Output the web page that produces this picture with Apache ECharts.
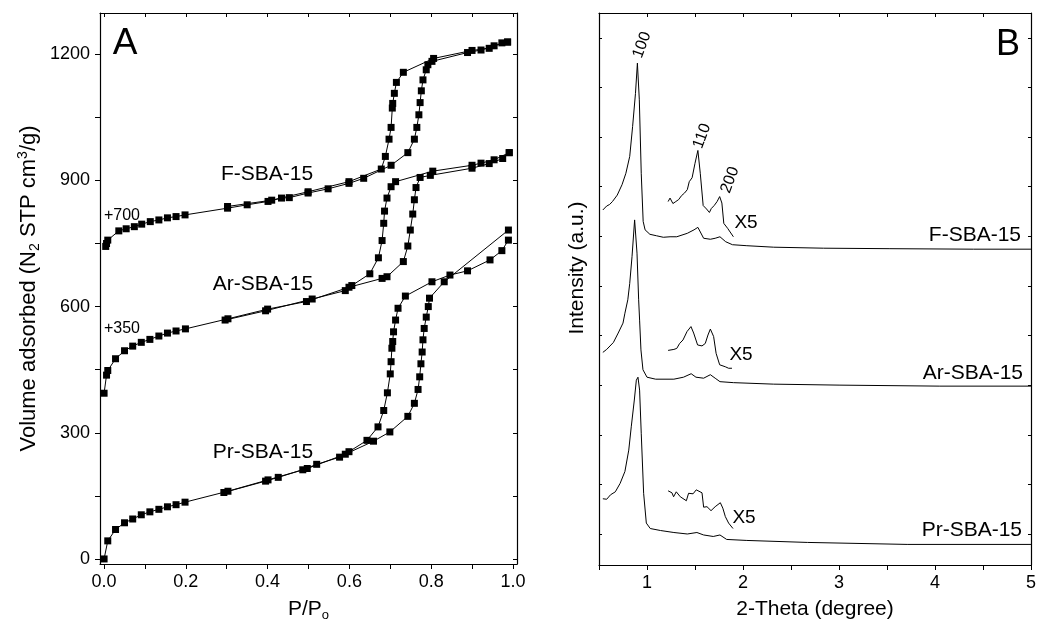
<!DOCTYPE html>
<html>
<head>
<meta charset="utf-8">
<script src="https://cdn.jsdelivr.net/npm/echarts@6/dist/echarts.min.js"></script>
<style>
html,body{margin:0;padding:0;background:#fff;}
#chart{width:1039px;height:633px;}
</style>
</head>
<body>
<div id="chart"></div>
<script>
// ---------- Panel A: N2 isotherms (P/Po, volume adsorbed incl. offsets) ----------
const aXLabels = [0, 0.2, 0.4, 0.6, 0.8, 1.0];
const aXTicks = [0, 0.1, 0.2, 0.3, 0.4, 0.5, 0.6, 0.7, 0.8, 0.9, 1.0];
const aYLabels = [0, 300, 600, 900, 1200];
const aYTicks = [0, 150, 300, 450, 600, 750, 900, 1050, 1200];

const fAds = [[0.004,743],[0.006,750],[0.009,758],[0.036,780],[0.054,785],[0.074,790],[0.092,796],[0.113,802],[0.134,806],[0.155,811],[0.176,814],[0.198,818],[0.302,834],[0.350,842],[0.401,850],[0.434,858],[0.453,859],[0.499,870],[0.548,880],[0.599,893],[0.635,905],[0.702,936],[0.743,966],[0.759,998],[0.765,1026],[0.770,1056],[0.773,1085],[0.776,1113],[0.780,1139],[0.788,1163],[0.792,1175],[0.802,1183],[0.889,1204],[0.922,1210],[0.954,1220],[0.987,1229]];
const fDes = [[0.987,1229],[0.973,1227],[0.942,1214],[0.900,1209],[0.806,1190],[0.732,1157],[0.715,1133],[0.710,1107],[0.706,1083],[0.705,1072],[0.702,1026],[0.697,998],[0.688,957],[0.678,927],[0.599,897],[0.499,873],[0.410,853],[0.302,838]];

const arAds = [[0,394],[0.006,437],[0.009,448],[0.028,476],[0.050,495],[0.070,506],[0.091,515],[0.112,522],[0.134,530],[0.155,537],[0.176,542],[0.199,547],[0.303,571],[0.400,594],[0.495,612],[0.599,646],[0.680,667],[0.692,671],[0.732,707],[0.743,744],[0.749,782],[0.755,820],[0.759,854],[0.763,883],[0.773,907],[0.798,912],[0.900,929],[0.942,940],[0.975,952],[0.991,966]];
const arDes = [[0.991,966],[0.954,949],[0.922,941],[0.900,936],[0.804,922],[0.713,897],[0.702,885],[0.692,858],[0.686,827],[0.684,798],[0.680,757],[0.671,716],[0.650,678],[0.606,650],[0.590,638],[0.509,618],[0.395,590],[0.296,568]];

const prAds = [[0,0],[0.009,43],[0.028,70],[0.050,86],[0.070,95],[0.091,105],[0.112,112],[0.134,118],[0.155,124],[0.176,129],[0.198,135],[0.303,161],[0.401,188],[0.497,215],[0.590,249],[0.659,280],[0.699,302],[0.743,339],[0.759,370],[0.768,403],[0.772,433],[0.775,464],[0.778,492],[0.780,521],[0.783,548],[0.788,575],[0.793,600],[0.796,620],[0.832,659],[0.989,782]];
const prDes = [[0.989,758],[0.973,733],[0.944,711],[0.889,685],[0.846,675],[0.802,659],[0.737,625],[0.719,596],[0.713,568],[0.708,540],[0.706,517],[0.704,501],[0.702,469],[0.700,440],[0.693,395],[0.684,353],[0.670,314],[0.643,282],[0.599,255],[0.576,242],[0.520,225],[0.486,212],[0.426,194],[0.395,185],[0.293,158]];

// ---------- Panel B: XRD patterns (2-theta, intensity a.u., stacked) ----------
const bXLabels = [1, 2, 3, 4, 5];
const bXTicks = [0.5, 1, 1.5, 2, 2.5, 3, 3.5, 4, 4.5, 5];
const bYTicks = [0, 1, 2, 3, 4, 5, 6, 7, 8, 9, 10];

const fMain = [[0.54,6.53],[0.58,6.61],[0.61,6.64],[0.64,6.70],[0.69,6.83],[0.74,7.04],[0.78,7.27],[0.82,7.61],[0.85,8.21],[0.88,8.88],[0.90,9.49],[0.92,8.75],[0.94,7.27],[0.96,6.30],[0.98,6.13],[1.03,6.04],[1.10,6.01],[1.17,5.98],[1.24,5.99],[1.31,5.99],[1.42,6.06],[1.49,6.13],[1.53,6.18],[1.59,5.96],[1.66,5.94],[1.71,5.96],[1.76,5.99],[1.82,5.89],[1.89,5.83],[2.04,5.81],[2.32,5.78],[2.84,5.76],[3.53,5.75],[4.40,5.74],[5.0,5.74]];
const fInset = [[1.22,6.70],[1.24,6.77],[1.27,6.66],[1.30,6.70],[1.33,6.74],[1.36,6.82],[1.39,6.87],[1.42,6.94],[1.44,7.10],[1.47,7.18],[1.50,7.47],[1.53,7.73],[1.555,7.27],[1.585,6.62],[1.62,6.55],[1.65,6.48],[1.67,6.56],[1.70,6.62],[1.73,6.70],[1.757,6.80],[1.78,6.67],[1.80,6.26],[1.84,6.16],[1.90,5.99]];

const arMain = [[0.54,3.66],[0.58,3.72],[0.65,3.86],[0.70,4.05],[0.75,4.25],[0.77,4.45],[0.80,4.72],[0.82,5.05],[0.844,5.59],[0.871,6.33],[0.896,5.66],[0.913,4.72],[0.923,4.31],[0.937,3.71],[0.958,3.31],[1.0,3.16],[1.09,3.12],[1.28,3.12],[1.38,3.16],[1.46,3.23],[1.51,3.16],[1.59,3.14],[1.66,3.21],[1.71,3.14],[1.76,3.07],[1.90,3.05],[2.32,3.02],[3.01,3.00],[4.05,2.98],[5.0,2.98]];
const arInset = [[1.22,3.70],[1.28,3.72],[1.31,3.74],[1.34,3.84],[1.375,3.91],[1.417,4.08],[1.458,4.18],[1.486,4.05],[1.527,3.81],[1.573,3.79],[1.607,3.84],[1.635,4.01],[1.66,4.13],[1.694,3.98],[1.72,3.64],[1.757,3.41],[1.816,3.37],[1.85,3.34],[1.868,3.31],[1.885,3.34]];

const prMain = [[0.54,0.71],[0.58,0.70],[0.62,0.79],[0.67,0.85],[0.72,1.02],[0.77,1.26],[0.81,1.69],[0.836,2.16],[0.868,2.70],[0.889,3.10],[0.906,3.16],[0.923,2.90],[0.94,2.03],[0.965,0.82],[0.993,0.22],[1.034,0.11],[1.14,0.07],[1.28,0.03],[1.42,0.0],[1.52,0.03],[1.59,-0.02],[1.69,-0.05],[1.76,-0.02],[1.83,-0.11],[2.04,-0.13],[2.67,-0.17],[3.71,-0.21],[5.0,-0.21]];
const prInset = [[1.22,0.87],[1.26,0.83],[1.277,0.75],[1.305,0.85],[1.347,0.75],[1.41,0.67],[1.433,0.82],[1.48,0.81],[1.513,0.89],[1.573,0.83],[1.59,0.54],[1.625,0.55],[1.667,0.47],[1.71,0.55],[1.764,0.63],[1.79,0.52],[1.816,0.35],[1.85,0.22],[1.896,0.11]];

const FONT = '"Liberation Sans", Arial, sans-serif';
const BLACK = '#000';

function isoSeries(name, data) {
  return {
    name: name, type: 'line', xAxisIndex: 0, yAxisIndex: 0, data: data,
    symbol: 'rect', symbolSize: 7, showSymbol: true,
    itemStyle: { color: BLACK }, lineStyle: { color: BLACK, width: 1 },
    animation: false, z: 3
  };
}
function xrdSeries(name, data) {
  return {
    name: name, type: 'line', xAxisIndex: 2, yAxisIndex: 2, data: data,
    showSymbol: false, symbol: 'none',
    lineStyle: { color: BLACK, width: 1 }, animation: false
  };
}
const axisLine = { show: true, onZero: false, lineStyle: { color: BLACK, width: 1.2 } };
const tickStyle = { color: BLACK, width: 1 };

function txt(text, x, y, size, opts) {
  opts = opts || {};
  return {
    type: 'text', x: x, y: y, rotation: opts.rotation || 0, z: 10,
    style: {
      text: text, fill: BLACK, fontFamily: FONT, fontSize: size,
      align: opts.align || 'center', verticalAlign: 'middle'
    }
  };
}

const chart = echarts.init(document.getElementById('chart'), null, { renderer: 'canvas' });
const option = {
  backgroundColor: '#fff',
  animation: false,
  grid: [
    { left: 100, top: 13, width: 417, height: 551 },
    { left: 599, top: 13, width: 432, height: 552 }
  ],
  xAxis: [
    { gridIndex: 0, type: 'value', min: -0.01, max: 1.01, position: 'bottom',
      axisLine: axisLine, splitLine: { show: false },
      axisTick: { show: true, inside: false, length: 5, lineStyle: tickStyle, customValues: aXTicks },
      axisLabel: { show: true, margin: 9, color: BLACK, fontSize: 18, fontFamily: FONT,
        customValues: aXLabels, formatter: v => v.toFixed(1) },
      name: 'P/P{sub|o}', nameLocation: 'middle', nameGap: 33,
      nameTextStyle: { color: BLACK, fontSize: 21, fontFamily: FONT,
        rich: { sub: { fontSize: 13, fontFamily: FONT, color: BLACK, padding: [12, 0, 0, 0] } } } },
    { gridIndex: 0, type: 'value', min: -0.01, max: 1.01, position: 'top',
      axisLine: axisLine, splitLine: { show: false },
      axisTick: { show: true, inside: true, length: 4, lineStyle: tickStyle, customValues: aXTicks },
      axisLabel: { show: false } },
    { gridIndex: 1, type: 'value', min: 0.5, max: 5, position: 'bottom',
      axisLine: axisLine, splitLine: { show: false },
      axisTick: { show: true, inside: false, length: 5, lineStyle: tickStyle, customValues: bXTicks },
      axisLabel: { show: true, margin: 9, color: BLACK, fontSize: 18, fontFamily: FONT,
        customValues: bXLabels, formatter: v => String(v) },
      name: '2-Theta (degree)', nameLocation: 'middle', nameGap: 34,
      nameTextStyle: { color: BLACK, fontSize: 21, fontFamily: FONT } },
    { gridIndex: 1, type: 'value', min: 0.5, max: 5, position: 'top',
      axisLine: axisLine, splitLine: { show: false },
      axisTick: { show: true, inside: true, length: 4, lineStyle: tickStyle, customValues: bXTicks },
      axisLabel: { show: false } }
  ],
  yAxis: [
    { gridIndex: 0, type: 'value', min: -12, max: 1298, position: 'left',
      axisLine: axisLine, splitLine: { show: false },
      axisTick: { show: true, inside: false, length: 5, lineStyle: tickStyle, customValues: aYTicks },
      axisLabel: { show: true, margin: 10, color: BLACK, fontSize: 18, fontFamily: FONT,
        customValues: aYLabels, formatter: v => String(v) },
      name: 'Volume adsorbed (N{sub|2} STP cm{sup|3}/g)', nameLocation: 'middle', nameGap: 58,
      nameTextStyle: { color: BLACK, fontSize: 22, fontFamily: FONT,
        rich: {
          sub: { fontSize: 14, fontFamily: FONT, color: BLACK, padding: [12, 0, 0, 0] },
          sup: { fontSize: 14, fontFamily: FONT, color: BLACK, padding: [0, 0, 12, 0] }
        } } },
    { gridIndex: 0, type: 'value', min: -12, max: 1298, position: 'right',
      axisLine: axisLine, splitLine: { show: false },
      axisTick: { show: true, inside: true, length: 4, lineStyle: tickStyle, customValues: aYTicks },
      axisLabel: { show: false } },
    { gridIndex: 1, type: 'value', min: -0.625, max: 10.5, position: 'left',
      axisLine: axisLine, splitLine: { show: false },
      axisTick: { show: true, inside: true, length: 3, lineStyle: tickStyle, customValues: bYTicks },
      axisLabel: { show: false } },
    { gridIndex: 1, type: 'value', min: -0.625, max: 10.5, position: 'right',
      axisLine: axisLine, splitLine: { show: false },
      axisTick: { show: true, inside: true, length: 3, lineStyle: tickStyle, customValues: bYTicks },
      axisLabel: { show: false } }
  ],
  series: [
    isoSeries('F-SBA-15 adsorption', fAds),
    isoSeries('F-SBA-15 desorption', fDes),
    isoSeries('Ar-SBA-15 adsorption', arAds),
    isoSeries('Ar-SBA-15 desorption', arDes),
    isoSeries('Pr-SBA-15 adsorption', prAds),
    isoSeries('Pr-SBA-15 desorption', prDes),
    xrdSeries('F-SBA-15', fMain),
    xrdSeries('F-SBA-15 X5', fInset),
    xrdSeries('Ar-SBA-15', arMain),
    xrdSeries('Ar-SBA-15 X5', arInset),
    xrdSeries('Pr-SBA-15', prMain),
    xrdSeries('Pr-SBA-15 X5', prInset)
  ],
  graphic: [
    txt('A', 125, 44, 37),
    txt('B', 1008, 45, 36),
    txt('F-SBA-15', 267, 174, 21),
    txt('Ar-SBA-15', 263, 284, 21),
    txt('Pr-SBA-15', 263, 452, 21),
    txt('+700', 122, 216, 16),
    txt('+350', 122, 329, 16),
    txt('Intensity (a.u.)', 577, 268, 21, { rotation: Math.PI / 2 }),
    txt('100', 642, 45, 16, { rotation: 70 * Math.PI / 180 }),
    txt('110', 702, 136, 16, { rotation: 70 * Math.PI / 180 }),
    txt('200', 730, 180, 16, { rotation: 70 * Math.PI / 180 }),
    txt('X5', 746, 223, 19),
    txt('X5', 741, 355, 19),
    txt('X5', 744, 518, 19),
    txt('F-SBA-15', 1021, 235, 21, { align: 'right' }),
    txt('Ar-SBA-15', 1023, 373, 21, { align: 'right' }),
    txt('Pr-SBA-15', 1022, 530, 21, { align: 'right' })
  ]
};
chart.setOption(option);
</script>
</body>
</html>
